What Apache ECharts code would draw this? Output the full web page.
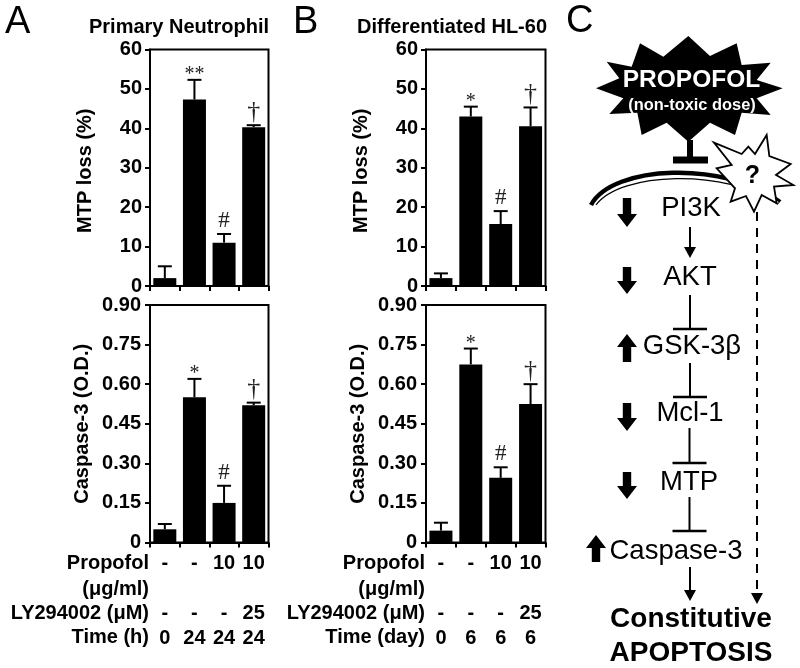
<!DOCTYPE html>
<html><head><meta charset="utf-8">
<style>html,body{margin:0;padding:0;background:#fff}#c{width:800px;height:668px}</style>
<script src="https://cdn.jsdelivr.net/npm/echarts@6/dist/echarts.min.js"></script>
</head><body><div id="c"></div>
<script>
var groups = ['a','b','c','d'];
var mtpA = [2, 47.3, 11, 40.3];
var mtpAErr = [5, 52.3, 13.2, 40.8];
var mtpAMark = ['', '**', '#', '†'];
var casA = [0.05, 0.55, 0.15, 0.52];
var casAErr = [0.07, 0.62, 0.215, 0.53];
var casAMark = ['', '*', '#', '†'];
var mtpB = [2, 43, 15.7, 40.5];
var mtpBErr = [3.2, 45.5, 19, 45.3];
var mtpBMark = ['', '*', '#', '†'];
var casB = [0.045, 0.675, 0.245, 0.525];
var casBErr = [0.075, 0.735, 0.285, 0.6];
var casBMark = ['', '*', '#', '†'];
var propofolRow = ['-', '-', '10', '10'];
var lyRow = ['-', '-', '-', '25'];
var timeRowA = ['0', '24', '24', '24'];
var timeRowB = ['0', '6', '6', '6'];
var rowHeadA = ['Propofol', '(μg/ml)', 'LY294002 (μM)', 'Time (h)'];
var rowHeadB = ['Propofol', '(μg/ml)', 'LY294002 (μM)', 'Time (day)'];

var SANS = '"Liberation Sans", Arial, sans-serif';
var SERIF = '"Liberation Serif", "Times New Roman", serif';

var panels = [
  {l:150, r:268.5, t:49.5, b:286, v:mtpA, e:mtpAErr, m:mtpAMark, name:'MTP loss (%)', max:60, step:10, gap:55, pad:[0,6,0,0], lm:8},
  {l:150, r:268.5, t:305, b:542.5, v:casA, e:casAErr, m:casAMark, name:'Caspase-3 (O.D.)', max:0.9, step:0.15, gap:58, pad:[0,0,0,0], lm:9, time:timeRowA},
  {l:426, r:545.5, t:49.5, b:286, v:mtpB, e:mtpBErr, m:mtpBMark, name:'MTP loss (%)', max:60, step:10, gap:55, pad:[0,6,0,0], lm:8},
  {l:426, r:545.5, t:305, b:542.5, v:casB, e:casBErr, m:casBMark, name:'Caspase-3 (O.D.)', max:0.9, step:0.15, gap:58, pad:[0,0,0,0], lm:9, time:timeRowB}
];

var markSize = {'*':20, '**':20, '#':23, '†':26};
var markOff = {'*':5, '**':5, '#':13, '†':13};

var grids=[], xAxes=[], yAxes=[], series=[];
panels.forEach(function(p,i){
  grids.push({left:p.l, top:p.t, width:p.r-p.l, height:p.b-p.t, show:true, borderColor:'#000', borderWidth:2, backgroundColor:'transparent'});
  xAxes.push({type:'category', gridIndex:i, data:groups, boundaryGap:true,
    axisLine:{show:true, lineStyle:{color:'#000', width:2}},
    axisTick:{show:true, alignWithLabel:false, length:5, lineStyle:{color:'#000', width:2}},
    axisLabel:{show:!!p.time, interval:0, margin:8, color:'#000', fontFamily:SANS, fontWeight:'bold', fontSize:20, lineHeight:25,
      formatter:function(v,idx){ return p.time ? [propofolRow[idx],' ',lyRow[idx],p.time[idx]].join('\n') : ''; }},
    splitLine:{show:false}});
  yAxes.push({type:'value', gridIndex:i, min:0, max:p.max, interval:p.step,
    name:p.name, nameLocation:'middle', nameGap:p.gap, nameRotate:90,
    nameTextStyle:{color:'#000', fontFamily:SANS, fontWeight:'bold', fontSize:20, padding:p.pad},
    axisLine:{show:true, lineStyle:{color:'#000', width:2}},
    axisTick:{show:true, length:5, lineStyle:{color:'#000', width:2}},
    axisLabel:{margin:p.lm, color:'#000', fontFamily:SANS, fontWeight:'bold', fontSize:20,
      formatter:function(v){ return p.max<1 ? (v===0?'0':v.toFixed(2)) : String(v); }},
    splitLine:{show:false}});
  series.push({type:'bar', xAxisIndex:i, yAxisIndex:i, data:p.v, barWidth:23, itemStyle:{color:'#000'}, silent:true, animation:false});
  series.push({type:'custom', xAxisIndex:i, yAxisIndex:i, silent:true, animation:false, clip:false,
    data:p.v.map(function(v,k){return [k,v,p.e[k]];}),
    renderItem:function(params,api){
      var k=api.value(0), base=api.coord([k,api.value(1)]), top=api.coord([k,api.value(2)]), mk=p.m[k];
      var kids=[
        {type:'line',shape:{x1:base[0],y1:base[1],x2:base[0],y2:top[1]},style:{stroke:'#000',lineWidth:2}},
        {type:'line',shape:{x1:base[0]-7,y1:top[1],x2:base[0]+7,y2:top[1]},style:{stroke:'#000',lineWidth:2}}
      ];
      if(mk) kids.push({type:'text',style:{x:base[0],y:top[1]-markOff[mk],text:mk,align:'center',verticalAlign:'middle',
        font:markSize[mk]+'px '+SERIF,fill:'#222'}});
      return {type:'group',children:kids};
    }});
});

var g=[];
function txt(x,y,s,size,weight,align,fill){
  g.push({type:'text',x:x,y:y,z:20,style:{text:s,fill:fill||'#000',font:(weight||'normal')+' '+size+'px '+SANS,textAlign:align||'center',textVerticalAlign:'middle'}});
}
function line(x1,y1,x2,y2,w,dash){
  g.push({type:'line',z:5,shape:{x1:x1,y1:y1,x2:x2,y2:y2},style:{stroke:'#000',lineWidth:w,lineDash:dash||null}});
}
function poly(pts,fill,stroke,w,z){
  g.push({type:'polygon',z:z||5,shape:{points:pts},style:{fill:fill,stroke:stroke||null,lineWidth:w||0}});
}
function tee(x,y1,y2,hw){ line(x,y1,x,y2,2); line(x-hw,y2,x+hw,y2,2.4); }
function arrowTo(x,y1,y2){ line(x,y1,x,y2-8,2); poly([[x-6,y2-11],[x+6,y2-11],[x,y2]],'#000'); }
function bigDown(x,y1,y2){ poly([[x-4.2,y1],[x+4.2,y1],[x+4.2,y2-13],[x+10,y2-13],[x,y2],[x-10,y2-13],[x-4.2,y2-13]],'#000'); }
function bigUp(x,y1,y2){ poly([[x-4.2,y2],[x+4.2,y2],[x+4.2,y1+13],[x+10,y1+13],[x,y1],[x-10,y1+13],[x-4.2,y1+13]],'#000'); }

// panel letters and titles
txt(5,23,'A',38,'normal','left');
txt(293,23,'B',38,'normal','left');
txt(566,22,'C',38,'normal','left');
txt(179,27,'Primary Neutrophil',20,'bold');
txt(452,27,'Differentiated HL-60',20,'bold');

// table row headers
[[149,rowHeadA],[425,rowHeadB]].forEach(function(c){
  [563,589,613,637].forEach(function(y,i){ txt(c[0],y,c[1][i],20,'bold','right'); });
});

// propofol star
var Z=function(a){return a.map(function(p){return [560+p[0]/3,p[1]/3];});};
poly(Z([[108,265],[178,235],[140,185],[215,200],[240,130],[310,170],[385,108],[450,168],[530,130],[545,195],[632,188],[590,240],[668,265],[590,295],[632,345],[545,338],[525,405],[450,368],[385,425],[320,368],[245,405],[232,338],[148,342],[190,295]]),'#000');
line(690,140,690,158,6);
line(673,160,708,160,7);

// arcs
g.push({type:'bezierCurve',z:4,shape:{x1:591,y1:205,cpx1:612,cpy1:165,cpx2:725,cpy2:160,x2:780,y2:202},style:{stroke:'#000',lineWidth:4.5,fill:null}});
g.push({type:'bezierCurve',z:4,shape:{x1:596,y1:204,cpx1:620,cpy1:171,cpx2:725,cpy2:167,x2:778,y2:203},style:{stroke:'#fff',lineWidth:2.5,fill:null}});
g.push({type:'bezierCurve',z:4,shape:{x1:596,y1:205,cpx1:620,cpy1:172,cpx2:725,cpy2:168,x2:778,y2:204},style:{stroke:'#000',lineWidth:1.2,fill:null}});

// question starburst
poly(Z([[462,428],[545,462],[565,440],[585,462],[620,405],[628,468],[692,492],[648,525],[700,555],[642,560],[650,610],[605,585],[582,635],[558,588],[512,605],[525,565],[470,505],[515,495]]),'#fff','#000',1.8,8);
txt(752.5,176,'?',25,'bold');

// propofol text
txt(691.5,80,'PROPOFOL',24.5,'bold','center','#fff');
txt(692,105,'(non-toxic dose)',16.4,'bold','center','#fff');

// pathway
txt(691,208,'PI3K',27.5);
txt(690,277,'AKT',27.5);
txt(692,346,'GSK-3β',27.5);
txt(690,413,'Mcl-1',27.5);
txt(689,482,'MTP',27.5);
txt(676,551,'Caspase-3',27.5);
txt(691,619,'Constitutive',28,'bold');
txt(691,653,'APOPTOSIS',28,'bold');

arrowTo(690,227,258);
tee(690,295,329,17);
tee(690,363,397,17);
tee(689.5,428,463,17);
tee(689.5,497,531,17);
arrowTo(690,567,601);
line(757,212,757,596,2,[9,7]);
poly([[751,593],[763,593],[757,604]],'#000');

bigDown(627,198,227);
bigDown(627,267,294);
bigUp(627,334,362);
bigDown(627,403,431);
bigDown(627,472,499);
bigUp(596,535,562);

var chart=echarts.init(document.getElementById('c'),null,{renderer:'canvas'});
chart.setOption({animation:false, backgroundColor:'#fff', grid:grids, xAxis:xAxes, yAxis:yAxes, series:series, graphic:{elements:g}});
</script></body></html>
